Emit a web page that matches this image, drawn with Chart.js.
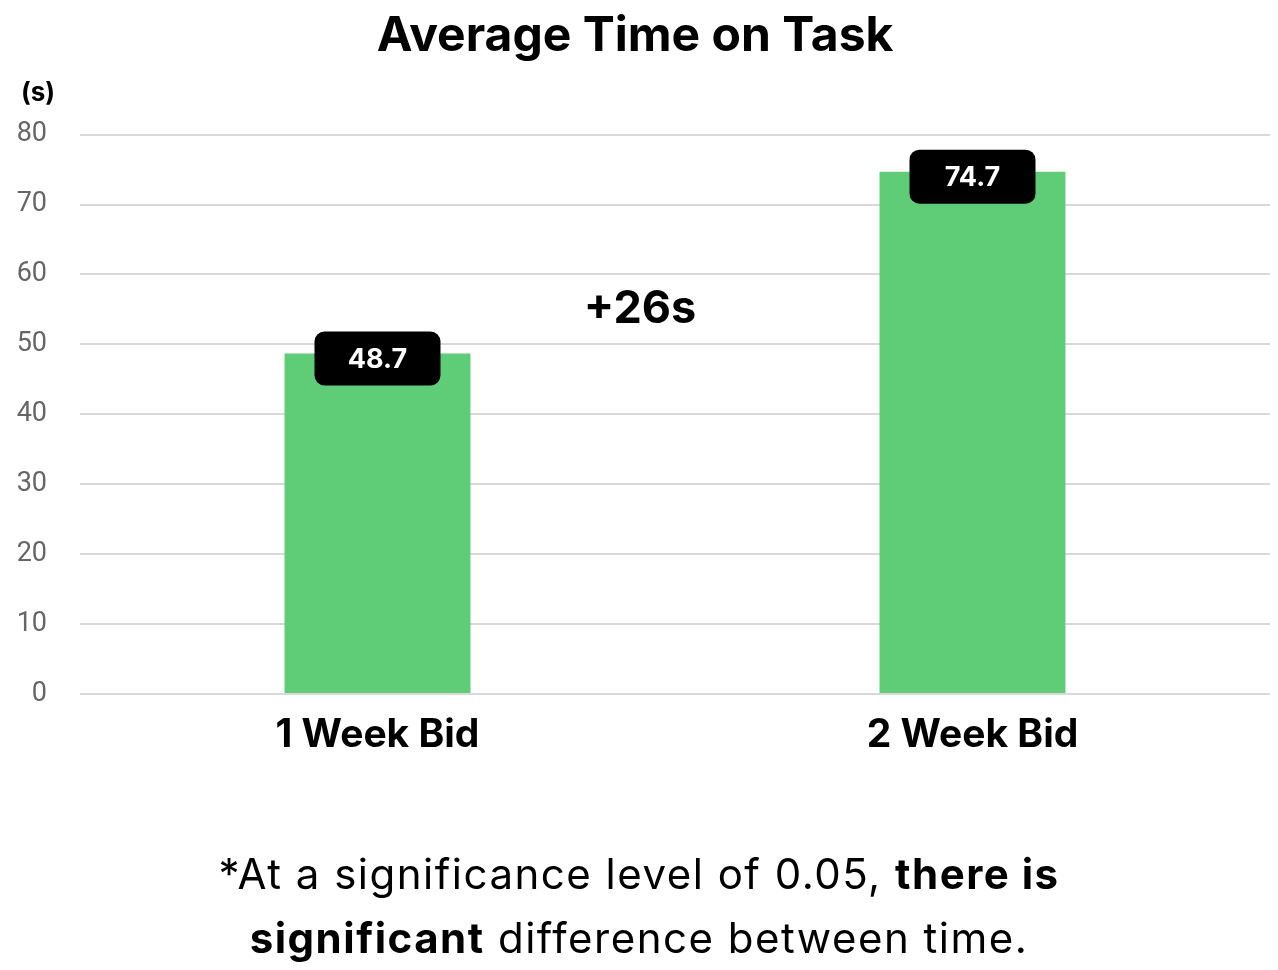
<!DOCTYPE html>
<html>
<head>
<meta charset="utf-8">
<script src="https://cdn.jsdelivr.net/npm/chart.js@4"></script>
<style>
  html, body { margin: 0; padding: 0; background: #fff; }
  #wrap { position: relative; width: 1278px; height: 970px; }
  #note { position: absolute; left: 0; width: 1278px; top: 842px; text-align: center;
          font-family: Inter, "Open Sans", sans-serif; font-size: 42px; line-height: 64px;
          letter-spacing: 1.5px; color: #000; }
  #note b { font-weight: 700; }
</style>
</head>
<body>
<div id="wrap">
  <canvas id="c" width="1278" height="970"></canvas>
  <div id="note">*At a significance level of 0.05, <b>there is</b><br><b>significant</b> difference between time.</div>
</div>
<script>
const categories = ["1 Week Bid", "2 Week Bid"];
const avgTime = [48.7, 74.7];
const yTicks = [0, 10, 20, 30, 40, 50, 60, 70, 80];
const diffLabel = "+26s";
const diffLabelValue = 55;
const unitLabel = "(s)";
const chartTitle = "Average Time on Task";

const FONT = 'Inter, "Open Sans", sans-serif';

const overlay = {
  id: 'overlay',
  afterDatasetsDraw(chart) {
    const ctx = chart.ctx;
    const meta = chart.getDatasetMeta(0);
    ctx.save();
    meta.data.forEach((bar, i) => {
      const w = 126, h = 54;
      const cx = bar.x, cy = bar.y + 5;
      ctx.fillStyle = '#000';
      ctx.beginPath();
      ctx.roundRect(cx - w / 2, cy - h / 2, w, h, 10);
      ctx.fill();
      ctx.fillStyle = '#fff';
      ctx.font = 'bold 27px ' + FONT;
      ctx.textAlign = 'center';
      ctx.textBaseline = 'middle';
      ctx.fillText(avgTime[i].toFixed(1), cx, cy + 1);
    });
    const xs = chart.scales.x, ys = chart.scales.y;
    const mx = (xs.getPixelForValue(0) + xs.getPixelForValue(1)) / 2;
    ctx.fillStyle = '#000';
    ctx.font = 'bold 45px ' + FONT;
    ctx.textAlign = 'center';
    ctx.textBaseline = 'middle';
    ctx.fillText(diffLabel, mx - 35, ys.getPixelForValue(diffLabelValue));
    ctx.font = 'bold 26px ' + FONT;
    ctx.fillText(unitLabel, 38, 93);
    ctx.restore();
  }
};

new Chart(document.getElementById('c'), {
  type: 'bar',
  data: {
    labels: categories,
    datasets: [{
      data: avgTime,
      backgroundColor: '#5fcc77',
      borderWidth: 0,
      barPercentage: 0.3125,
      categoryPercentage: 1
    }]
  },
  options: {
    responsive: false,
    animation: false,
    devicePixelRatio: 1,
    layout: { padding: { left: 0, right: 8, top: 0, bottom: 196 } },
    plugins: {
      legend: { display: false },
      tooltip: { enabled: false },
      title: {
        display: true,
        text: chartTitle,
        color: '#000',
        font: { family: FONT, size: 48, weight: 'bold' },
        padding: { top: 8, bottom: 69 }
      }
    },
    scales: {
      x: {
        grid: { display: false, drawTicks: false },
        border: { display: false },
        ticks: { color: '#000', font: { family: FONT, size: 39, weight: 'bold' }, padding: 18 },
        afterFit(scale) { scale.height = 80; }
      },
      y: {
        min: 0, max: 80,
        afterBuildTicks(scale) { scale.ticks = yTicks.map(v => ({ value: v })); },
        grid: { color: '#d9d9d9', lineWidth: 2, drawTicks: false },
        border: { display: false },
        ticks: { color: '#666', font: { family: 'Roboto, sans-serif', size: 27 }, padding: 33 },
        afterFit(scale) { scale.width = 80; }
      }
    }
  },
  plugins: [overlay]
});
</script>
</body>
</html>
